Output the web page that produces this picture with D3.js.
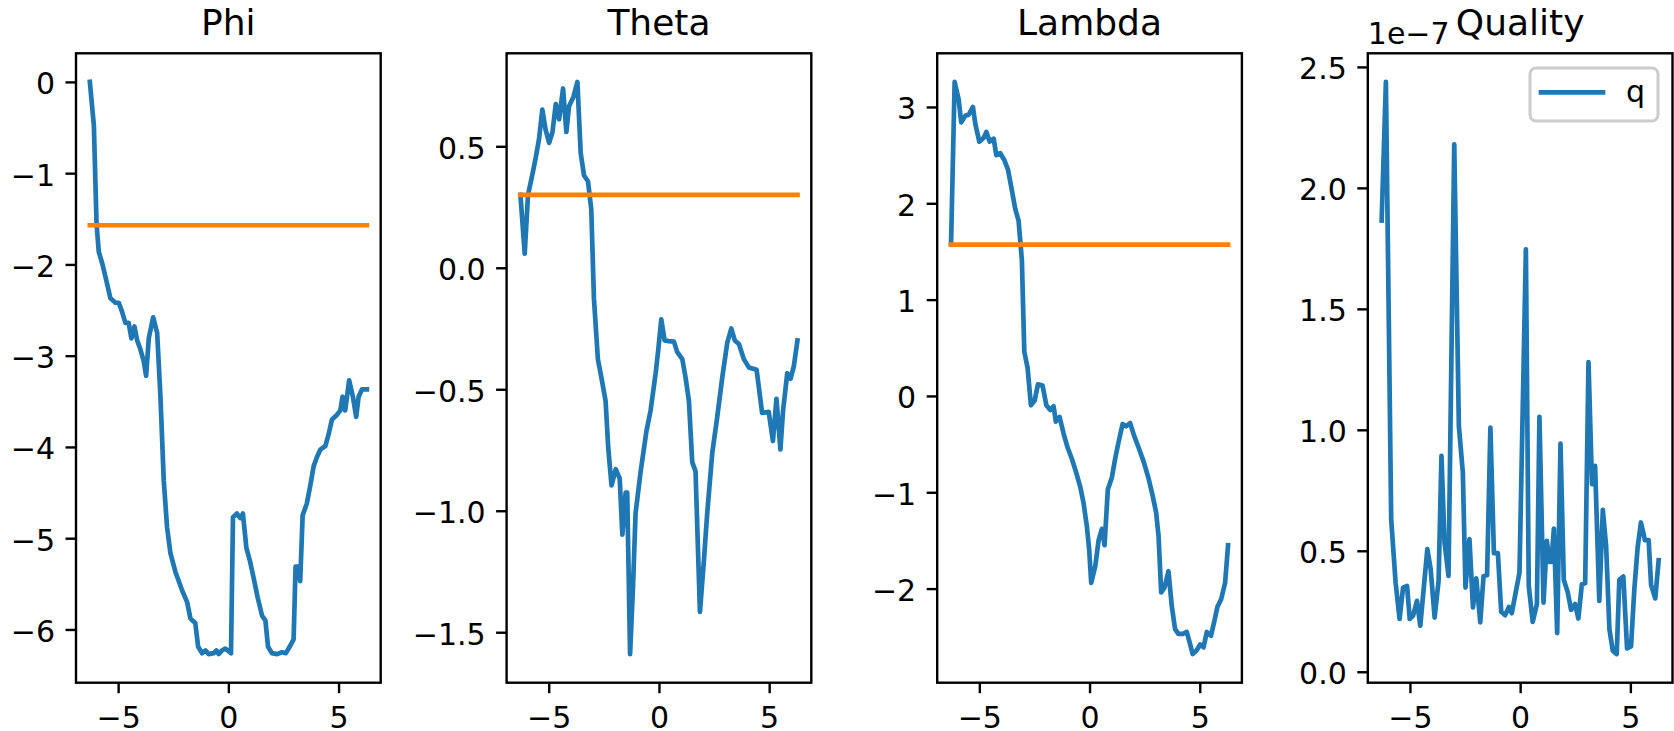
<!DOCTYPE html>
<html>
<head>
<meta charset="utf-8">
<script src="https://cdn.jsdelivr.net/npm/d3@7"></script>
<style>
    body { margin: 0; background: #fff; }
    svg { display: block; font-family: "DejaVu Sans", sans-serif; }
</style>
</head>
<body>
<script>
let blue = "#1f77b4",
    orange = "#ff7f0e";

// x runs from -2pi to 2pi in every panel
let xMin = -6.283,
    xMax = 6.283,
    xTicks = [-5, 0, 5];

let titles = ["Phi", "Theta", "Lambda", "Quality"];

let phiPts = [[-6.283, 0.00], [-6.10, -0.48], [-5.98, -1.55], [-5.88, -1.86], [-5.72, -1.99], [-5.57, -2.14],
    [-5.35, -2.37], [-5.12, -2.42], [-4.97, -2.42], [-4.82, -2.52], [-4.67, -2.64], [-4.52, -2.64], [-4.40, -2.81],
    [-4.26, -2.68], [-4.14, -2.83], [-3.99, -2.93], [-3.84, -3.06], [-3.73, -3.22], [-3.61, -2.81], [-3.41, -2.58],
    [-3.23, -2.75], [-3.08, -3.45], [-2.93, -4.37], [-2.78, -4.88], [-2.63, -5.16], [-2.40, -5.37], [-2.10, -5.57],
    [-1.87, -5.70], [-1.72, -5.88], [-1.50, -5.93], [-1.37, -6.19], [-1.19, -6.26], [-1.04, -6.23], [-0.89, -6.27],
    [-0.66, -6.26], [-0.54, -6.23], [-0.44, -6.27], [-0.29, -6.23], [-0.14, -6.21], [-0.03, -6.23], [0.12, -6.26],
    [0.21, -4.77], [0.39, -4.73], [0.54, -4.78], [0.66, -4.73], [0.82, -5.11], [0.97, -5.24], [1.15, -5.44],
    [1.33, -5.65], [1.53, -5.85], [1.68, -5.90], [1.80, -6.19], [1.98, -6.26], [2.21, -6.27], [2.43, -6.25],
    [2.61, -6.26], [2.78, -6.19], [2.96, -6.11], [3.05, -5.31], [3.16, -5.31], [3.26, -5.47], [3.37, -4.75],
    [3.56, -4.62], [3.72, -4.42], [3.87, -4.21], [4.02, -4.11], [4.17, -4.03], [4.40, -3.99], [4.55, -3.86],
    [4.70, -3.70], [4.92, -3.65], [5.08, -3.60], [5.18, -3.45], [5.30, -3.60], [5.48, -3.27], [5.65, -3.45],
    [5.80, -3.67], [5.91, -3.45], [6.06, -3.37], [6.283, -3.37]];

let thetaPts = [[-6.283, 0.30], [-6.09, 0.058], [-5.94, 0.30], [-5.74, 0.385], [-5.59, 0.453], [-5.44, 0.53],
    [-5.29, 0.651], [-5.14, 0.568], [-4.98, 0.514], [-4.83, 0.559], [-4.68, 0.674], [-4.53, 0.611], [-4.35, 0.738],
    [-4.20, 0.559], [-4.08, 0.665], [-3.88, 0.703], [-3.70, 0.765], [-3.55, 0.472], [-3.40, 0.38], [-3.22, 0.356],
    [-3.07, 0.241], [-2.95, -0.125], [-2.77, -0.376], [-2.57, -0.472], [-2.42, -0.549], [-2.30, -0.742],
    [-2.15, -0.896], [-1.96, -0.829], [-1.78, -0.867], [-1.66, -1.098], [-1.51, -0.925], [-1.44, -0.925],
    [-1.31, -1.59], [-1.18, -1.32], [-1.06, -1.01], [-0.83, -0.838], [-0.57, -0.674], [-0.38, -0.588],
    [-0.15, -0.434], [-0.03, -0.337], [0.106, -0.212], [0.257, -0.299], [0.453, -0.302], [0.68, -0.304],
    [0.83, -0.347], [1.06, -0.376], [1.21, -0.453], [1.36, -0.549], [1.51, -0.80], [1.66, -0.838], [1.86, -1.416],
    [2.04, -1.204], [2.19, -1.01], [2.42, -0.761], [2.64, -0.617], [2.87, -0.453], [3.10, -0.308], [3.28, -0.25],
    [3.44, -0.299], [3.63, -0.314], [3.85, -0.376], [4.08, -0.41], [4.43, -0.42], [4.53, -0.491], [4.68, -0.597],
    [4.98, -0.593], [5.17, -0.713], [5.33, -0.539], [5.51, -0.748], [5.63, -0.588], [5.82, -0.434], [5.97, -0.457],
    [6.12, -0.405], [6.283, -0.299]];

let lambdaPts = [[-6.283, 1.576], [-6.12, 3.26], [-5.94, 3.08], [-5.82, 2.84], [-5.63, 2.91], [-5.48, 2.92],
    [-5.29, 3.00], [-5.18, 2.82], [-5.00, 2.64], [-4.80, 2.68], [-4.68, 2.74], [-4.53, 2.64], [-4.35, 2.67],
    [-4.23, 2.50], [-4.05, 2.52], [-3.87, 2.45], [-3.70, 2.35], [-3.52, 2.13], [-3.37, 1.94], [-3.22, 1.82],
    [-3.07, 1.41], [-2.96, 0.46], [-2.81, 0.29], [-2.66, -0.097], [-2.49, -0.048], [-2.34, 0.121], [-2.13, 0.107],
    [-1.96, -0.097], [-1.78, -0.145], [-1.63, -0.107], [-1.53, -0.267], [-1.36, -0.218], [-1.18, -0.388],
    [-1.00, -0.533], [-0.80, -0.655], [-0.60, -0.80], [-0.42, -0.946], [-0.27, -1.115], [-0.12, -1.358],
    [-0.015, -1.60], [0.076, -1.94], [0.257, -1.77], [0.41, -1.50], [0.56, -1.38], [0.68, -1.55], [0.83, -0.97],
    [1.01, -0.849], [1.16, -0.655], [1.31, -0.485], [1.50, -0.291], [1.66, -0.315], [1.84, -0.281], [2.02, -0.412],
    [2.22, -0.533], [2.45, -0.679], [2.67, -0.849], [2.87, -1.043], [3.02, -1.21], [3.13, -1.455], [3.25, -2.04],
    [3.40, -1.99], [3.58, -1.82], [3.73, -2.18], [3.88, -2.42], [4.03, -2.47], [4.23, -2.47], [4.41, -2.45],
    [4.53, -2.55], [4.68, -2.68], [4.86, -2.64], [5.02, -2.58], [5.17, -2.61], [5.32, -2.45], [5.51, -2.49],
    [5.65, -2.35], [5.80, -2.19], [5.97, -2.11], [6.15, -1.94], [6.283, -1.55]];

// quality values in units of 1e-7
let qualityPts = [[-6.283, 1.865], [-6.09, 2.438], [-5.85, 0.63], [-5.65, 0.369], [-5.47, 0.218], [-5.31, 0.348],
    [-5.13, 0.355], [-5.01, 0.218], [-4.86, 0.231], [-4.68, 0.293], [-4.53, 0.19], [-4.21, 0.507], [-4.06, 0.424],
    [-3.88, 0.224], [-3.70, 0.376], [-3.57, 0.892], [-3.43, 0.534], [-3.25, 0.396], [-2.99, 2.18], [-2.78, 1.016],
    [-2.60, 0.823], [-2.48, 0.348], [-2.30, 0.548], [-2.14, 0.266], [-1.99, 0.386], [-1.81, 0.204], [-1.66, 0.396],
    [-1.50, 0.399], [-1.35, 1.009], [-1.19, 0.49], [-1.01, 0.49], [-0.86, 0.248], [-0.68, 0.234], [-0.51, 0.268],
    [-0.38, 0.242], [-0.03, 0.41], [0.26, 1.746], [0.39, 0.355], [0.57, 0.206], [0.76, 0.28], [0.875, 1.054],
    [1.06, 0.286], [1.21, 0.541], [1.33, 0.454], [1.42, 0.454], [1.53, 0.592], [1.68, 0.16], [1.83, 0.943],
    [1.98, 0.38], [2.16, 0.328], [2.31, 0.256], [2.49, 0.28], [2.64, 0.22], [2.80, 0.362], [2.95, 0.366],
    [3.10, 1.28], [3.26, 0.775], [3.40, 0.851], [3.59, 0.293], [3.75, 0.669], [3.90, 0.52], [4.05, 0.176],
    [4.20, 0.087], [4.38, 0.073], [4.50, 0.38], [4.68, 0.394], [4.85, 0.097], [5.03, 0.105], [5.18, 0.341],
    [5.33, 0.514], [5.48, 0.617], [5.66, 0.544], [5.83, 0.544], [5.94, 0.358], [6.13, 0.303], [6.283, 0.461]];

// constant reference levels (orange)
let phiTarget = -1.571,
    thetaTarget = 0.30,
    lambdaTarget = 1.571;

let phiTicks = [0, -1, -2, -3, -4, -5, -6],
    phiLabels = ["0", "\u22121", "\u22122", "\u22123", "\u22124", "\u22125", "\u22126"];
let thetaTicks = [0.5, 0.0, -0.5, -1.0, -1.5],
    thetaLabels = ["0.5", "0.0", "\u22120.5", "\u22121.0", "\u22121.5"];
let lambdaTicks = [3, 2, 1, 0, -1, -2],
    lambdaLabels = ["3", "2", "1", "0", "\u22121", "\u22122"];
let qualityTicks = [0.0, 0.5, 1.0, 1.5, 2.0, 2.5],
    qualityLabels = ["0.0", "0.5", "1.0", "1.5", "2.0", "2.5"];
let xLabels = ["\u22125", "0", "5"];

let svgWidth = 1674,
    svgHeight = 731,
    panelLeft = 76,
    panelStep = 430.6,
    panelWidth = 304.7,
    panelTop = 53.3,
    panelBottom = 682.7,
    tickLen = 10.5,
    tickPad = 10.5,
    lineWidth = 4.7,
    fontSize = 30,
    titleSize = 36;

let svgContainer;

function init() {
    svgContainer = d3.select("body").append("svg")
        .attr("width", svgWidth)
        .attr("height", svgHeight);

    drawPanel(0, phiPts, phiTarget, phiTicks, phiLabels);
    drawPanel(1, thetaPts, thetaTarget, thetaTicks, thetaLabels);
    drawPanel(2, lambdaPts, lambdaTarget, lambdaTicks, lambdaLabels);
    let q = drawPanel(3, qualityPts, null, qualityTicks, qualityLabels);
    drawOffsetText(q);
    drawLegend(q);
}

function padded(extent) {
    let r = extent[1] - extent[0];
    return [extent[0] - 0.05 * r, extent[1] + 0.05 * r];
}

function drawPanel(i, pts, target, yTicks, yLabels) {
    let left = panelLeft + i * panelStep;
    let right = left + panelWidth;

    let values = pts.map(p => p[1]);
    if (target !== null) values.push(target);

    let xScale = d3.scaleLinear().domain(padded([xMin, xMax])).range([left, right]);
    let yScale = d3.scaleLinear().domain(padded(d3.extent(values))).range([panelBottom, panelTop]);

    let g = svgContainer.append("g");

    let line = d3.line().x(p => xScale(p[0])).y(p => yScale(p[1]));

    g.append("path")
        .datum(pts)
        .attr("d", line)
        .attr("fill", "none")
        .attr("stroke", blue)
        .attr("stroke-width", lineWidth)
        .attr("stroke-linejoin", "round")
        .attr("stroke-linecap", "square");

    if (target !== null) {
        g.append("path")
            .datum([[xMin, target], [xMax, target]])
            .attr("d", line)
            .attr("fill", "none")
            .attr("stroke", orange)
            .attr("stroke-width", lineWidth)
            .attr("stroke-linecap", "square");
    }

    let yAxis = d3.axisLeft(yScale)
        .tickValues(yTicks)
        .tickFormat((d, k) => yLabels[k])
        .tickSize(tickLen)
        .tickSizeOuter(0)
        .tickPadding(tickPad);

    let xAxis = d3.axisBottom(xScale)
        .tickValues(xTicks)
        .tickFormat((d, k) => xLabels[k])
        .tickSize(tickLen)
        .tickSizeOuter(0)
        .tickPadding(tickPad);

    let ya = g.append("g")
        .attr("transform", "translate(" + left + ",0)")
        .call(yAxis);
    let xa = g.append("g")
        .attr("transform", "translate(0," + panelBottom + ")")
        .call(xAxis);

    [ya, xa].forEach(a => {
        a.select(".domain").remove();
        a.attr("font-family", null).attr("font-size", fontSize);
        a.selectAll("line").attr("stroke", "#000").attr("stroke-width", 2.4);
        a.selectAll("text").attr("fill", "#000");
    });
    ya.selectAll("text").attr("dy", "0.4em");
    xa.selectAll("text").attr("y", tickLen + tickPad).attr("dy", "0.82em");

    g.append("rect")
        .attr("x", left)
        .attr("y", panelTop)
        .attr("width", panelWidth)
        .attr("height", panelBottom - panelTop)
        .attr("fill", "none")
        .attr("stroke", "#000")
        .attr("stroke-width", 2.4);

    g.append("text")
        .attr("x", (left + right) / 2)
        .attr("y", 35)
        .attr("text-anchor", "middle")
        .attr("font-size", titleSize)
        .text(titles[i]);

    return {left: left, right: right};
}

function drawOffsetText(p) {
    svgContainer.append("text")
        .attr("x", p.left)
        .attr("y", 44)
        .attr("font-size", fontSize)
        .text("1e\u22127");
}

function drawLegend(p) {
    let w = 128, h = 53;
    let x = p.right - 14.5 - w, y = panelTop + 14.7;
    let lg = svgContainer.append("g");
    lg.append("rect")
        .attr("x", x)
        .attr("y", y)
        .attr("width", w)
        .attr("height", h)
        .attr("rx", 6)
        .attr("fill", "#fff")
        .attr("fill-opacity", 0.8)
        .attr("stroke", "#cccccc")
        .attr("stroke-width", 3);
    lg.append("line")
        .attr("x1", x + 11)
        .attr("x2", x + 73)
        .attr("y1", y + 24.4)
        .attr("y2", y + 24.4)
        .attr("stroke", blue)
        .attr("stroke-width", lineWidth)
        .attr("stroke-linecap", "square");
    lg.append("text")
        .attr("x", x + 96)
        .attr("y", y + 34)
        .attr("font-size", fontSize)
        .text("q");
}

init();
</script>
</body>
</html>
